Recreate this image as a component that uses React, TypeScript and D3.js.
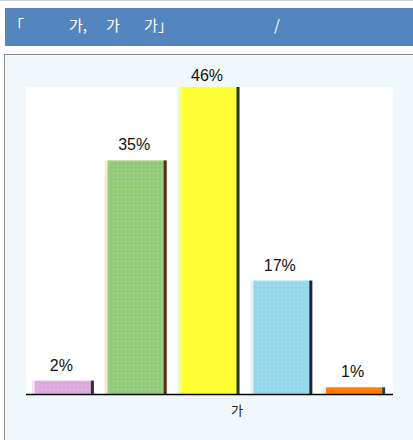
import { useEffect, useRef } from "react";
import * as d3 from "d3";

const categories = ["a", "b", "c", "d", "e"];
const values = [2, 35, 46, 17, 1];
const valueLabels = ["2%", "35%", "46%", "17%", "1%"];
const barColors = ["#dcaadc", "#93ca7a", "#ffff33", "#96d8ea", "#ff7b00"];
const edgeColors = ["#3a2a3a", "#5a2c0c", "#1e3a14", "#1a2448", "#1e4a48"];
const fringeColors = ["#f4e4f4", "#fbe6cc", "#e4f8e4", "#e6f4f8", "#e4f4f8"];
const axisLabel = "가";
const titleParts = [
  { x: 9, t: "「" },
  { x: 69, t: "가," },
  { x: 106, t: "가" },
  { x: 144, t: "가」" },
  { x: 274, t: "/" },
];

export default function App() {
  const svgRef = useRef<SVGSVGElement | null>(null);

  useEffect(() => {
    document.body.style.margin = "0";
    if (!svgRef.current) return;

    const width = 413;
    const svg = d3.select(svgRef.current);
    svg.selectAll("*").remove();

    // top rule + header bar
    svg.append("rect").attr("x", 0).attr("y", 0).attr("width", width).attr("height", 1).attr("fill", "#d4d4d4");
    svg.append("rect").attr("x", 5).attr("y", 8).attr("width", width - 5).attr("height", 38).attr("fill", "#5585bf");

    const title = svg.append("text")
      .attr("y", 31)
      .attr("fill", "#ffffff")
      .attr("font-family", "'Noto Sans CJK KR', sans-serif")
      .attr("font-size", 15);
    title.selectAll("tspan")
      .data(titleParts)
      .join("tspan")
      .attr("x", (d) => d.x)
      .text((d) => d.t);

    // panel
    svg.append("rect")
      .attr("x", 4.5).attr("y", 54.5)
      .attr("width", 430).attr("height", 400)
      .attr("fill", "#f1f8fb")
      .attr("stroke", "#8c8c8c");

    const left = 26, right = 392, top = 87, bottom = 394;

    svg.append("rect")
      .attr("x", left).attr("y", top)
      .attr("width", right - left + 1).attr("height", bottom - top)
      .attr("fill", "#ffffff");

    // dot texture
    const defs = svg.append("defs");
    const pat = defs.append("pattern")
      .attr("id", "dots")
      .attr("width", 4).attr("height", 4)
      .attr("patternUnits", "userSpaceOnUse");
    pat.append("rect").attr("x", 1).attr("y", 1).attr("width", 1).attr("height", 1).attr("fill", "#ffffff").attr("opacity", 0.35);

    const x = d3.scaleBand<string>()
      .domain(categories)
      .range([left, right])
      .paddingInner(0.134)
      .paddingOuter(0.08);

    const y = d3.scaleLinear()
      .domain([0, d3.max(values) as number])
      .range([bottom, top]);

    const bw = x.bandwidth();
    const bars = svg.append("g")
      .selectAll("g")
      .data(categories)
      .join("g");

    bars.append("rect")
      .attr("x", (d) => x(d) as number)
      .attr("y", (d, i) => y(values[i]))
      .attr("width", 4)
      .attr("height", (d, i) => bottom - y(values[i]))
      .attr("fill", (d, i) => fringeColors[i]);

    bars.append("rect")
      .attr("x", (d) => (x(d) as number) + 3)
      .attr("y", (d, i) => y(values[i]))
      .attr("width", bw - 6)
      .attr("height", (d, i) => bottom - y(values[i]))
      .attr("fill", (d, i) => barColors[i]);

    bars.append("rect")
      .attr("x", (d) => (x(d) as number) + 3)
      .attr("y", (d, i) => y(values[i]))
      .attr("width", bw - 6)
      .attr("height", (d, i) => bottom - y(values[i]))
      .attr("fill", "url(#dots)");

    bars.append("rect")
      .attr("x", (d) => (x(d) as number) + bw - 4)
      .attr("y", (d, i) => y(values[i]))
      .attr("width", 3)
      .attr("height", (d, i) => bottom - y(values[i]))
      .attr("fill", (d, i) => edgeColors[i]);

    // labels sit ~10px above the bar, but never above the panel header area
    bars.append("text")
      .attr("x", (d) => (x(d) as number) + bw / 2 - 2)
      .attr("y", (d, i) => Math.max(y(values[i]) - 10, 81))
      .attr("text-anchor", "middle")
      .attr("font-family", "'Liberation Sans', Arial, sans-serif")
      .attr("font-size", 16)
      .attr("fill", "#111")
      .text((d, i) => valueLabels[i]);

    // baseline axis
    svg.append("line")
      .attr("x1", left).attr("x2", right + 1)
      .attr("y1", bottom + 0.5).attr("y2", bottom + 0.5)
      .attr("stroke", "#000").attr("stroke-width", 1.5);

    svg.append("text")
      .attr("x", (left + right) / 2 + 28)
      .attr("y", 415)
      .attr("text-anchor", "middle")
      .attr("font-family", "'Noto Sans CJK KR', sans-serif")
      .attr("font-size", 13)
      .attr("fill", "#222")
      .text(axisLabel);
  }, []);

  return <svg ref={svgRef} width={413} height={440} style={{ display: "block" }} />;
}
